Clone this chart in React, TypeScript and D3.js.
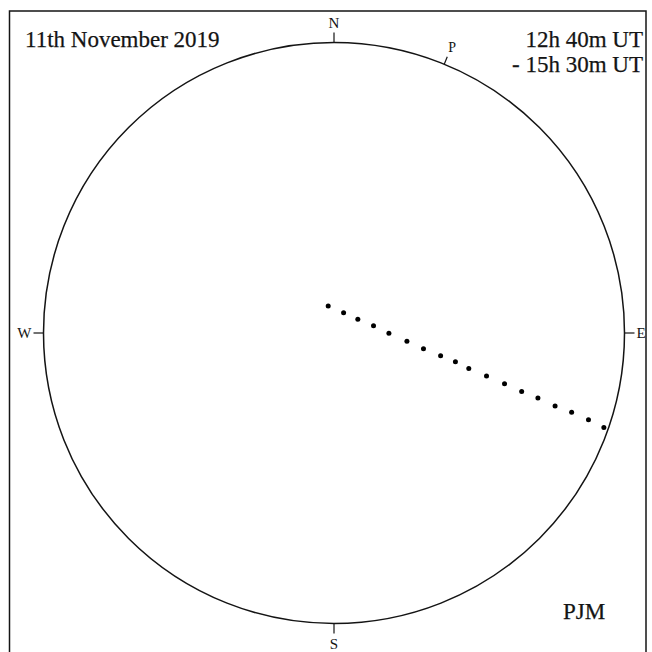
import React from "react";
import * as d3 from "d3";

// Transit track of Mercury across the solar disc, 10-minute steps (12:40 - 15:30 UT)
// positions in units of the solar radius; x positive to the east, y positive to the north
const times = ["12:40","12:50","13:00","13:10","13:20","13:30","13:40","13:50","14:00","14:10","14:20","14:30","14:40","14:50","15:00","15:10","15:20","15:30"];
const xPos = [-0.020, 0.033, 0.082, 0.136, 0.189, 0.251, 0.308, 0.367, 0.418, 0.464, 0.525, 0.587, 0.646, 0.702, 0.761, 0.818, 0.876, 0.929];
const yPos = [0.093, 0.070, 0.047, 0.025, -0.001, -0.028, -0.054, -0.078, -0.099, -0.122, -0.148, -0.175, -0.201, -0.224, -0.251, -0.273, -0.299, -0.325];

// cardinal points: label, position angle (deg, from north through east)
const cardinals = [
  { label: "N", angle: 0 },
  { label: "E", angle: 90 },
  { label: "S", angle: 180 },
  { label: "W", angle: 270 },
];
const poleAngle = 22.3; // P - solar rotation axis position angle
const titleText = "11th November 2019";
const timeLines = ["12h 40m UT", "- 15h 30m UT"];
const author = "PJM";

export default function App() {
  const W = 652, H = 652;
  const cx = 334, cy = 333, R = 290.5;
  const x = d3.scaleLinear().domain([-1, 1]).range([cx - R, cx + R]);
  const y = d3.scaleLinear().domain([-1, 1]).range([cy + R, cy - R]);
  const font = "'Liberation Serif', 'Times New Roman', serif";
  const ink = "#141414";

  const polar = (ang: number, rr: number) => {
    const a = (ang * Math.PI) / 180;
    return [x(rr * Math.sin(a)), y(rr * Math.cos(a))];
  };
  const tickLen = 10 / R;

  const labelPos: Record<string, { dx: number; dy: number; anchor: string }> = {
    N: { dx: 0, dy: -5, anchor: "middle" },
    E: { dx: 2, dy: 5, anchor: "start" },
    S: { dx: 0, dy: 15, anchor: "middle" },
    W: { dx: -2, dy: 5, anchor: "end" },
  };

  const pOuter = polar(poleAngle, 1 + 8 / R);
  const pInner = polar(poleAngle, 1);

  return (
    <svg width={W} height={H} style={{ position: "absolute", left: 0, top: 0, background: "#fff" }}>
      <rect x={0} y={0} width={W} height={H} fill="#fff" />
      <rect x={9.5} y={11} width={636.5} height={660} fill="none" stroke={ink} strokeWidth={1.5} />
      <circle cx={x(0)} cy={y(0)} r={x(1) - x(0)} fill="none" stroke={ink} strokeWidth={1.5} />
      {cardinals.map((c) => {
        const [x1, y1] = polar(c.angle, 1);
        const [x2, y2] = polar(c.angle, 1 + tickLen);
        const lp = labelPos[c.label];
        return (
          <g key={c.label}>
            <line x1={x1} y1={y1} x2={x2} y2={y2} stroke={ink} strokeWidth={1.2} />
            <text x={x2 + lp.dx} y={y2 + lp.dy} textAnchor={lp.anchor as any} fontFamily={font} fontSize={15} fill={ink}>
              {c.label}
            </text>
          </g>
        );
      })}
      <line x1={pInner[0]} y1={pInner[1]} x2={pOuter[0]} y2={pOuter[1]} stroke={ink} strokeWidth={1.2} />
      <text x={pOuter[0] + 5} y={pOuter[1] - 5} textAnchor="middle" fontFamily={font} fontSize={14} fill={ink}>P</text>

      {times.map((t, i) => (
        <circle key={t} cx={x(xPos[i])} cy={y(yPos[i])} r={2.5} fill="#000" />
      ))}

      <text x={25} y={47} fontFamily={font} fontSize={23} fill={ink} stroke={ink} strokeWidth={0.25}>{titleText}</text>
      {timeLines.map((s, i) => (
        <text key={s} x={643} y={47 + i * 25} textAnchor="end" fontFamily={font} fontSize={23} fill={ink} stroke={ink} strokeWidth={0.25}>{s}</text>
      ))}
      <text x={563} y={619} fontFamily={font} fontSize={23} fill={ink} stroke={ink} strokeWidth={0.25}>{author}</text>
    </svg>
  );
}
